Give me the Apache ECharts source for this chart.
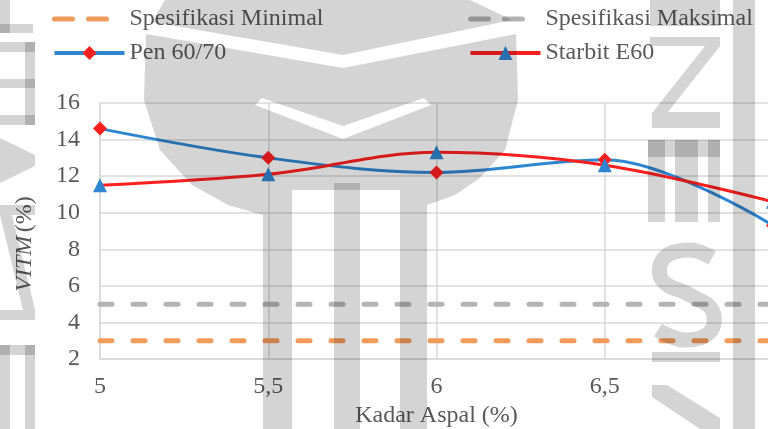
<!DOCTYPE html>
<html>
<head>
<meta charset="utf-8">
<script src="https://cdn.jsdelivr.net/npm/echarts@6/dist/echarts.min.js"></script>
<style>
  html, body { margin: 0; padding: 0; background: #ffffff; }
  #chart { width: 768px; height: 429px; }
</style>
</head>
<body>
<div id="chart"></div>
<script>
// Kadar aspal (%) on the x axis
const kadarAspal = ['5', '5,5', '6', '6,5', '7'];
// VITM (%) per binder type
const pen6070 = [14.6, 13.0, 12.2, 12.9, 9.3];
const starbitE60 = [11.5, 12.1, 13.3, 12.6, 10.6];
// specification limits
const spesifikasiMinimal = [3, 3, 3, 3, 3];
const spesifikasiMaksimal = [5, 5, 5, 5, 5];
// y axis range
const yMin = 2, yMax = 16, yStep = 2;

const FONT = 'Liberation Serif';
const TEXT = '#595959';
const GRID = '#d9d9d9';
const BLUE = '#2e86d0';
const RED = '#ff1f1f';
const ORANGE = '#f29a5c';
const GREY = '#b4b4b4';

const chart = echarts.init(document.getElementById('chart'), null, { renderer: 'canvas' });

// background emblem, multiplied over the plot
const WM = '#d4d4d4';
function wmRect(x, y, w, h) {
  return { type: 'rect', z: 100, silent: true, shape: { x, y, width: w, height: h }, style: { fill: WM, blend: 'multiply' } };
}
function wmPoly(points) {
  return { type: 'polygon', z: 100, silent: true, shape: { points }, style: { fill: WM, blend: 'multiply' } };
}
function wmStroke(points, width, smooth) {
  return { type: 'polyline', z: 100, silent: true, shape: { points, smooth: smooth || 0 },
           style: { stroke: WM, lineWidth: width, fill: null, blend: 'multiply' } };
}
const emblem = [
  // dome, upper band
  wmPoly([[165, 0], [470, 0], [512, 20], [343, 55], [152, 22]]),
  // dome, left half
  wmPoly([[146, 34], [343, 68], [343, 126], [262, 98], [255, 105], [343, 139], [343, 190],
          [292, 190], [292, 183], [263, 183], [263, 215], [228, 205], [192, 185], [160, 150], [144, 100]]),
  // dome, right half
  wmPoly([[343, 68], [516, 34], [518, 100], [505, 150], [480, 178], [455, 195], [427, 205],
          [427, 183], [400, 183], [400, 190], [343, 190], [343, 139], [431, 105], [424, 98], [343, 126]]),
  // columns
  wmRect(263, 183, 29, 246),
  wmRect(334, 183, 26, 246),
  wmRect(400, 183, 27, 246),
  // right edge bar
  wmRect(733, 0, 22, 429),
  // lettering along the right side
  wmRect(650, 0, 70, 26),
  wmRect(650, 37, 70, 9),
  wmPoly([[705, 46], [720, 46], [668, 112], [653, 112]]),
  wmRect(652, 112, 68, 16),
  wmRect(648, 140, 72, 17),
  wmRect(648, 140, 17, 82),
  wmRect(675, 140, 23, 82),
  wmRect(708, 140, 12, 82),
  wmStroke([[712, 258], [690, 250], [664, 258], [662, 280], [690, 295], [712, 310], [710, 332], [684, 340], [658, 330]], 15, 0.4),
  wmRect(652, 352, 68, 10),
  wmPoly([[652, 385], [667, 385], [720, 418], [720, 429], [700, 429], [652, 397]]),
  // lettering along the left side
  wmRect(0, 0, 10, 33),
  wmRect(0, 24, 33, 9),
  wmRect(0, 42, 35, 10),
  wmRect(25, 42, 10, 83),
  wmRect(0, 79, 35, 9),
  wmRect(0, 115, 35, 10),
  wmPoly([[0, 138], [35, 155], [35, 166], [0, 183]]),
  wmRect(0, 205, 35, 10),
  wmPoly([[0, 215], [12, 215], [35, 310], [23, 310]]),
  wmRect(0, 310, 35, 10),
  wmRect(0, 345, 35, 10),
  wmRect(0, 345, 10, 84),
  wmRect(25, 345, 10, 84)
];

const legendText = { fontFamily: FONT, fontSize: 24, color: TEXT };
const dashedLegendItem = (name, color) => ({
  name,
  itemStyle: { opacity: 0 },
  lineStyle: { color, width: 5, cap: 'round', type: [18, 16, 18, 60] }
});
const solidLegendItem = (name, color) => ({
  name,
  lineStyle: { color, width: 4 }
});

const option = {
  backgroundColor: '#ffffff',
  animation: false,
  textStyle: { fontFamily: FONT },
  legend: [
    {
      data: [dashedLegendItem('Spesifikasi Minimal', ORANGE), solidLegendItem('Pen 60/70', BLUE)],
      left: 47, top: 2, orient: 'vertical',
      itemWidth: 70, itemHeight: 17.5, itemGap: 10,
      textStyle: legendText
    },
    {
      data: [dashedLegendItem('Spesifikasi Maksimal', GREY), solidLegendItem('Starbit E60', RED)],
      left: 463, top: 2, orient: 'vertical',
      itemWidth: 70, itemHeight: 17.5, itemGap: 10,
      textStyle: legendText
    }
  ],
  grid: { left: 100, right: -5, top: 103, bottom: 70, containLabel: false, outerBoundsMode: 'none' },
  xAxis: {
    type: 'category',
    data: kadarAspal,
    boundaryGap: false,
    name: 'Kadar Aspal (%)',
    nameLocation: 'middle',
    nameGap: 43,
    nameTextStyle: { fontFamily: FONT, fontSize: 24, color: TEXT },
    axisLine: { show: true, lineStyle: { color: GRID, width: 1.5 } },
    axisTick: { show: false },
    axisLabel: { fontFamily: FONT, fontSize: 24, color: TEXT, margin: 16, hideOverlap: false },
    splitLine: { show: true, lineStyle: { color: GRID, width: 1.5 } }
  },
  yAxis: {
    type: 'value',
    min: yMin, max: yMax, interval: yStep,
    axisLine: { show: true, lineStyle: { color: GRID, width: 1.5 } },
    axisTick: { show: false },
    axisLabel: { fontFamily: FONT, fontSize: 24, color: TEXT, margin: 20 },
    splitLine: { show: true, lineStyle: { color: GRID, width: 1.5 } }
  },
  graphic: [
    {
      type: 'text', z: 10, silent: true,
      x: 25, y: 244, rotation: Math.PI / 2,
      style: {
        text: '{a|VITM} {b|(%)}',
        align: 'center', verticalAlign: 'middle',
        fill: TEXT,
        rich: {
          a: { fontFamily: FONT, fontSize: 24, fontStyle: 'italic', fill: TEXT },
          b: { fontFamily: FONT, fontSize: 24, fill: TEXT }
        }
      }
    }
  ].concat(emblem),
  series: [
    {
      name: 'Spesifikasi Minimal', type: 'line', data: spesifikasiMinimal,
      showSymbol: false, symbol: 'none',
      lineStyle: { color: ORANGE, width: 5, type: [12, 21], cap: 'round' },
      itemStyle: { color: ORANGE }, z: 2
    },
    {
      name: 'Spesifikasi Maksimal', type: 'line', data: spesifikasiMaksimal,
      showSymbol: false, symbol: 'none',
      lineStyle: { color: GREY, width: 5, type: [12, 21], cap: 'round' },
      itemStyle: { color: GREY }, z: 2
    },
    {
      name: 'Pen 60/70', type: 'line', data: pen6070,
      smooth: 0.35,
      symbol: 'diamond', symbolSize: 14,
      lineStyle: { color: BLUE, width: 3 },
      itemStyle: { color: RED }, z: 3
    },
    {
      name: 'Starbit E60', type: 'line', data: starbitE60,
      smooth: 0.35,
      symbol: 'triangle', symbolSize: 14,
      lineStyle: { color: RED, width: 3 },
      itemStyle: { color: BLUE }, z: 3
    }
  ]
};

chart.setOption(option);
</script>
</body>
</html>
